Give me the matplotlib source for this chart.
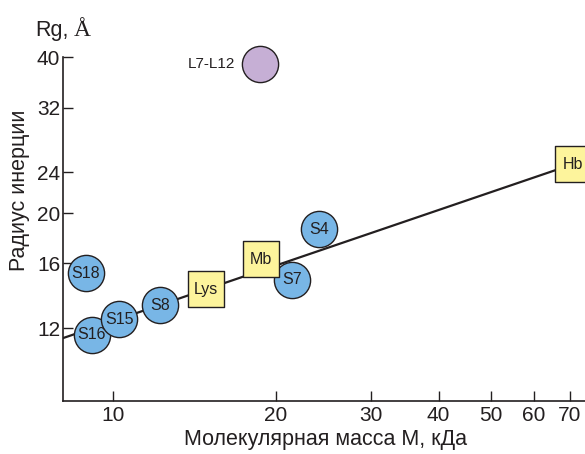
import matplotlib
matplotlib.use("Agg")
import matplotlib.pyplot as plt

plt.rcParams['font.family'] = ['Liberation Sans', 'DejaVu Sans']

# молекулярная масса (кДа) и радиус инерции (Å)
circle_names = ["S18", "S16", "S15", "S8", "S7", "S4"]
circle_mass = [8.91, 9.14, 10.27, 12.23, 21.42, 24.09]
circle_rg = [15.32, 11.64, 12.48, 13.30, 14.87, 18.65]

square_names = ["Lys", "Mb", "Hb"]
square_mass = [14.87, 18.77, 71.0]
square_rg = [14.26, 16.30, 24.90]

complex_name = "L7-L12"
complex_mass = [18.72]
complex_rg = [38.9]

fit_mass = [8.09, 71.0]
fit_rg = [11.48, 24.90]

x_ticks = [10, 20, 30, 40, 50, 60, 70]
y_ticks = [12, 16, 20, 24, 32, 40]

edge = "#231f20"
blue = "#78b6e6"
yellow = "#fdf49c"
purple = "#c6afd5"

fig = plt.figure(figsize=(5.85, 4.54), dpi=100)
ax = fig.add_axes([0.1077, 0.1174, 0.8923, 0.756])

ax.set_xscale("log")
ax.set_yscale("log")
ax.set_xlim(8.09, 74.6)
ax.set_ylim(8.69, 40)

ax.plot(fit_mass, fit_rg, color=edge, lw=1.6, zorder=2)

ax.scatter(circle_mass, circle_rg, s=680, c=blue, edgecolors=edge,
           linewidths=1.0, zorder=3, clip_on=False)
ax.scatter(square_mass, square_rg, s=680, marker="s", c=yellow,
           edgecolors=edge, linewidths=1.0, zorder=3, clip_on=False)
ax.scatter(complex_mass, complex_rg, s=680, c=purple, edgecolors=edge,
           linewidths=1.0, zorder=3, clip_on=False)

for name, m, r in zip(circle_names + square_names,
                      circle_mass + square_mass, circle_rg + square_rg):
    ax.text(m, r, name, ha="center", va="center", fontsize=11.5,
            color=edge, zorder=4, clip_on=False)
ax.text(complex_mass[0] / 1.11, complex_rg[0], complex_name, ha="right",
        va="center", fontsize=11, color=edge)

ax.set_xticks(x_ticks)
ax.set_xticklabels([str(t) for t in x_ticks])
ax.set_yticks(y_ticks)
ax.set_yticklabels([str(t) for t in y_ticks])
ax.minorticks_off()
ax.tick_params(direction="in", length=7, width=1.0, color=edge,
               labelsize=15, labelcolor=edge, pad=4)
ax.tick_params(axis="y", pad=2)

for side in ["top", "right"]:
    ax.spines[side].set_visible(False)
for side in ["left", "bottom"]:
    ax.spines[side].set_linewidth(1.2)
    ax.spines[side].set_color(edge)

fig.text(326 / 585, 1 - 440 / 454, "Молекулярная масса М, кДа",
         ha="center", va="center", fontsize=15.5, color=edge)
fig.text(20 / 585, 1 - 190 / 454, "Радиус инерции", rotation=90,
         ha="center", va="center", fontsize=15.5, color=edge)
fig.text(35 / 585, 1 - 36 / 454, "Rg,", ha="left", va="baseline",
         fontsize=15.5, color=edge)
fig.text(74 / 585, 1 - 36 / 454, "Å", ha="left", va="baseline",
         fontsize=17, color=edge, family=["Liberation Serif", "DejaVu Serif"])

fig.savefig("out.png", dpi=100)
